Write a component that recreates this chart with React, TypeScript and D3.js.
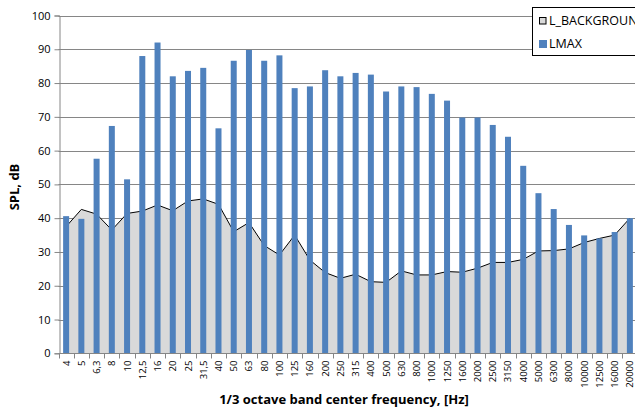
import React, { useEffect, useRef } from "react";
import * as d3 from "d3";

const bands = [
  "4", "5", "6,3", "8", "10", "12,5", "16", "20", "25", "31,5", "40", "50", "63", "80",
  "100", "125", "160", "200", "250", "315", "400", "500", "630", "800", "1000", "1250",
  "1600", "2000", "2500", "3150", "4000", "5000", "6300", "8000", "10000", "12500",
  "16000", "20000",
];

const lBackground = [
  37.5, 42.6, 41.2, 36.5, 41.4, 42.1, 43.9, 42.2, 45.1, 45.7, 44.1, 36.0, 38.7, 31.9,
  29.1, 35.0, 27.6, 23.9, 22.2, 23.4, 21.2, 21.0, 24.4, 23.2, 23.2, 24.2, 24.0, 25.2,
  26.9, 26.9, 27.8, 30.3, 30.4, 30.9, 32.8, 34.0, 35.0, 40.0,
];

const lMax = [
  40.6, 39.8, 57.6, 67.3, 51.5, 88.0, 92.0, 82.0, 83.6, 84.5, 66.6, 86.6, 89.8, 86.6,
  88.2, 78.5, 79.0, 83.8, 82.0, 83.0, 82.5, 77.5, 79.0, 78.8, 76.8, 74.8, 69.8, 69.8,
  67.6, 64.1, 55.5, 47.4, 42.7, 38.0, 34.9, 34.0, 35.9, 40.0,
];

const yTicks = [0, 10, 20, 30, 40, 50, 60, 70, 80, 90, 100];

const App = () => {
  const svgRef = useRef<SVGSVGElement>(null);

  useEffect(() => {
    const width = 635;
    const height = 409;
    const left = 58.5;
    const right = 637.5;
    const top = 15.5;
    const bottom = 353.3;
    const font = "'Open Sans', sans-serif";
    const grid = "#868686";

    const svg = d3.select(svgRef.current).attr("width", width).attr("height", height);
    svg.selectAll("*").remove();

    const x = d3.scaleBand().domain(bands).range([left, right]).padding(0);
    const y = d3.scaleLinear().domain([0, 100]).range([bottom, top]);
    const cx = (d: string) => (x(d) as number) + x.bandwidth() / 2;

    // gridlines
    svg.append("g")
      .selectAll("line")
      .data(yTicks.filter((t) => t > 0))
      .enter()
      .append("line")
      .attr("x1", left)
      .attr("x2", right)
      .attr("y1", (d) => Math.round(y(d)) + 0.5)
      .attr("y2", (d) => Math.round(y(d)) + 0.5)
      .attr("stroke", grid)
      .attr("stroke-width", 1);

    // background area
    const pts = bands.map((b, i) => ({ b, v: lBackground[i] }));
    const area = d3.area<{ b: string; v: number }>()
      .x((d) => cx(d.b))
      .y0(y(0))
      .y1((d) => y(d.v));
    const line = d3.line<{ b: string; v: number }>()
      .x((d) => cx(d.b))
      .y((d) => y(d.v));

    svg.append("path").attr("d", area(pts)).attr("fill", "#d9d9d9");
    svg.append("path").attr("d", line(pts)).attr("fill", "none").attr("stroke", "#000").attr("stroke-width", 1);

    // LMAX bars
    const bw = 6;
    svg.append("g")
      .selectAll("rect")
      .data(bands)
      .enter()
      .append("rect")
      .attr("x", (d) => cx(d) - bw / 2)
      .attr("width", bw)
      .attr("y", (d, i) => y(lMax[i]))
      .attr("height", (d, i) => y(0) - y(lMax[i]))
      .attr("fill", "#4f81bd");

    // y axis
    const yAxis = d3.axisLeft(y).tickValues(yTicks).tickSize(5).tickPadding(4);
    const ya = svg.append("g").attr("transform", `translate(${Math.round(left) + 0.5},0)`).call(yAxis);
    ya.select(".domain").attr("stroke", grid);
    ya.selectAll(".tick line").attr("stroke", grid);
    ya.selectAll(".tick text")
      .attr("font-family", font)
      .attr("font-size", 11)
      .attr("fill", "#000");

    // x axis
    const xa = svg.append("g").attr("transform", `translate(0,${Math.round(bottom) + 0.5})`);
    xa.append("line").attr("x1", left).attr("x2", right).attr("stroke", grid);
    xa.selectAll("line.t")
      .data(bands.concat(["end"]))
      .enter()
      .append("line")
      .attr("class", "t")
      .attr("x1", (d, i) => Math.round(left + i * x.bandwidth()) + 0.5)
      .attr("x2", (d, i) => Math.round(left + i * x.bandwidth()) + 0.5)
      .attr("y1", 0)
      .attr("y2", 5)
      .attr("stroke", grid);
    xa.selectAll("text")
      .data(bands)
      .enter()
      .append("text")
      .attr("transform", (d) => `translate(${cx(d) + 3.5},7) rotate(-90)`)
      .attr("text-anchor", "end")
      .attr("font-family", font)
      .attr("font-size", 9.5)
      .attr("fill", "#000")
      .text((d) => d);

    // axis titles
    svg.append("text")
      .attr("x", 344)
      .attr("y", 404)
      .attr("text-anchor", "middle")
      .attr("font-family", font)
      .attr("font-weight", "bold")
      .attr("font-size", 13)
      .text("1/3 octave band center frequency, [Hz]");

    svg.append("text")
      .attr("transform", "translate(19,187) rotate(-90)")
      .attr("text-anchor", "middle")
      .attr("font-family", font)
      .attr("font-weight", "bold")
      .attr("font-size", 13)
      .text("SPL, dB");

    // legend
    const lg = svg.append("g");
    lg.append("rect")
      .attr("x", 532.5)
      .attr("y", 7.5)
      .attr("width", 120)
      .attr("height", 48)
      .attr("fill", "#fff")
      .attr("stroke", "#000");
    lg.append("rect")
      .attr("x", 539.5)
      .attr("y", 17.5)
      .attr("width", 6.5)
      .attr("height", 6.5)
      .attr("fill", "#d9d9d9")
      .attr("stroke", "#000");
    lg.append("rect")
      .attr("x", 539)
      .attr("y", 40)
      .attr("width", 8)
      .attr("height", 8)
      .attr("fill", "#4f81bd");
    lg.append("text")
      .attr("x", 549)
      .attr("y", 24.5)
      .attr("font-family", font)
      .attr("font-size", 12.5)
      .text("L_BACKGROUND");
    lg.append("text")
      .attr("x", 549)
      .attr("y", 48)
      .attr("font-family", font)
      .attr("font-size", 12.5)
      .text("LMAX");
  }, []);

  return <svg ref={svgRef} style={{ position: "absolute", left: 0, top: 0 }}></svg>;
};

export default App;
